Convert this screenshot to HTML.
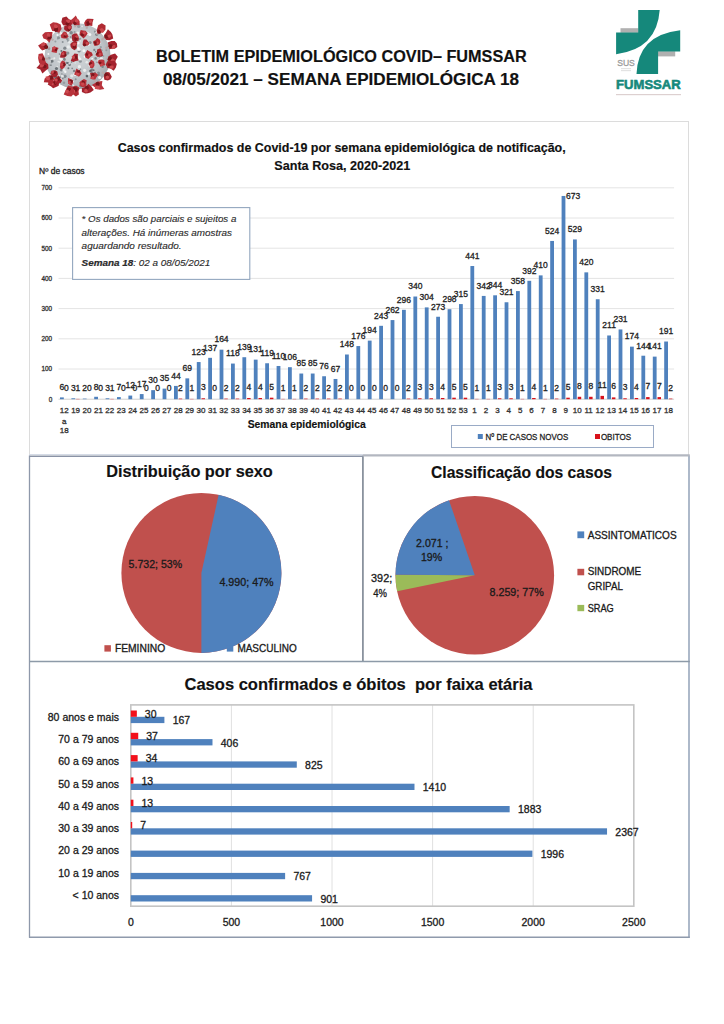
<!DOCTYPE html>
<html><head><meta charset="utf-8"><style>
html,body{margin:0;padding:0;background:#fff;}
svg{display:block;font-family:"Liberation Sans", sans-serif;}
</style></head><body>
<svg width="724" height="1024" viewBox="0 0 724 1024">
<rect width="724" height="1024" fill="#fff"/>
<defs><radialGradient id="vg" cx="0.45" cy="0.42" r="0.6"><stop offset="0" stop-color="#d6dadc"/><stop offset="0.7" stop-color="#bfc4c8"/><stop offset="1" stop-color="#a4a9ae"/></radialGradient><filter id="vb" x="-20%" y="-20%" width="140%" height="140%"><feGaussianBlur stdDeviation="0.55"/></filter></defs>
<g filter="url(#vb)">
<circle cx="77.6" cy="56.3" r="33" fill="url(#vg)"/>
<circle cx="58.5" cy="37.7" r="1.5" fill="#7d8489" opacity="0.8"/>
<circle cx="75.7" cy="26.6" r="0.7" fill="#ffffff" opacity="0.8"/>
<circle cx="80.1" cy="41.0" r="0.8" fill="#eef0f0" opacity="0.8"/>
<circle cx="93.7" cy="70.2" r="0.9" fill="#555c61" opacity="0.8"/>
<circle cx="90.0" cy="65.6" r="1.4" fill="#ffffff" opacity="0.8"/>
<circle cx="72.1" cy="85.5" r="1.5" fill="#eef0f0" opacity="0.8"/>
<circle cx="78.2" cy="48.0" r="1.3" fill="#ffffff" opacity="0.8"/>
<circle cx="78.5" cy="57.2" r="1.6" fill="#eef0f0" opacity="0.8"/>
<circle cx="82.1" cy="26.3" r="0.9" fill="#eef0f0" opacity="0.8"/>
<circle cx="70.2" cy="85.8" r="1.2" fill="#f6f6f6" opacity="0.8"/>
<circle cx="68.3" cy="46.9" r="1.7" fill="#eef0f0" opacity="0.8"/>
<circle cx="106.3" cy="50.2" r="1.0" fill="#8c9398" opacity="0.8"/>
<circle cx="51.8" cy="71.6" r="1.0" fill="#8c9398" opacity="0.8"/>
<circle cx="70.0" cy="79.1" r="0.7" fill="#f6f6f6" opacity="0.8"/>
<circle cx="75.5" cy="48.6" r="1.1" fill="#8c9398" opacity="0.8"/>
<circle cx="60.3" cy="58.4" r="1.2" fill="#f6f6f6" opacity="0.8"/>
<circle cx="84.6" cy="70.3" r="1.6" fill="#f6f6f6" opacity="0.8"/>
<circle cx="65.3" cy="71.7" r="1.2" fill="#ffffff" opacity="0.8"/>
<circle cx="61.9" cy="73.9" r="0.7" fill="#6f767b" opacity="0.8"/>
<circle cx="71.2" cy="32.7" r="1.7" fill="#6f767b" opacity="0.8"/>
<circle cx="78.7" cy="26.4" r="1.6" fill="#8c9398" opacity="0.8"/>
<circle cx="48.4" cy="54.0" r="1.0" fill="#ffffff" opacity="0.8"/>
<circle cx="98.5" cy="73.1" r="1.5" fill="#7d8489" opacity="0.8"/>
<circle cx="71.8" cy="75.9" r="1.7" fill="#eef0f0" opacity="0.8"/>
<circle cx="64.5" cy="76.7" r="1.6" fill="#8c9398" opacity="0.8"/>
<circle cx="73.4" cy="81.9" r="0.8" fill="#f6f6f6" opacity="0.8"/>
<circle cx="72.3" cy="68.2" r="0.8" fill="#eef0f0" opacity="0.8"/>
<circle cx="74.5" cy="39.3" r="1.2" fill="#f6f6f6" opacity="0.8"/>
<circle cx="107.0" cy="65.5" r="1.2" fill="#ffffff" opacity="0.8"/>
<circle cx="103.7" cy="61.6" r="1.0" fill="#8c9398" opacity="0.8"/>
<circle cx="58.2" cy="61.8" r="0.8" fill="#f6f6f6" opacity="0.8"/>
<circle cx="98.9" cy="60.7" r="1.5" fill="#eef0f0" opacity="0.8"/>
<circle cx="100.7" cy="53.6" r="0.8" fill="#7d8489" opacity="0.8"/>
<circle cx="66.7" cy="62.9" r="1.1" fill="#6f767b" opacity="0.8"/>
<circle cx="87.0" cy="42.4" r="1.2" fill="#555c61" opacity="0.8"/>
<circle cx="96.0" cy="31.8" r="1.2" fill="#ffffff" opacity="0.8"/>
<circle cx="71.0" cy="40.1" r="1.0" fill="#ffffff" opacity="0.8"/>
<circle cx="67.8" cy="63.0" r="1.1" fill="#555c61" opacity="0.8"/>
<circle cx="101.4" cy="50.2" r="1.2" fill="#8c9398" opacity="0.8"/>
<circle cx="86.8" cy="76.0" r="1.2" fill="#555c61" opacity="0.8"/>
<circle cx="90.1" cy="42.5" r="1.5" fill="#7d8489" opacity="0.8"/>
<circle cx="63.0" cy="75.0" r="0.7" fill="#8c9398" opacity="0.8"/>
<circle cx="60.6" cy="76.0" r="1.0" fill="#ffffff" opacity="0.8"/>
<circle cx="74.7" cy="86.9" r="1.4" fill="#8c9398" opacity="0.8"/>
<circle cx="63.7" cy="37.2" r="0.7" fill="#555c61" opacity="0.8"/>
<circle cx="80.2" cy="38.8" r="1.0" fill="#8c9398" opacity="0.8"/>
<circle cx="87.7" cy="33.5" r="1.5" fill="#8c9398" opacity="0.8"/>
<circle cx="74.9" cy="74.3" r="1.6" fill="#ffffff" opacity="0.8"/>
<circle cx="60.9" cy="79.3" r="1.6" fill="#f6f6f6" opacity="0.8"/>
<circle cx="59.8" cy="62.1" r="1.0" fill="#eef0f0" opacity="0.8"/>
<circle cx="65.2" cy="54.0" r="1.5" fill="#7d8489" opacity="0.8"/>
<circle cx="52.1" cy="60.0" r="1.4" fill="#f6f6f6" opacity="0.8"/>
<circle cx="56.5" cy="68.5" r="1.6" fill="#555c61" opacity="0.8"/>
<circle cx="67.4" cy="39.0" r="1.3" fill="#7d8489" opacity="0.8"/>
<circle cx="88.4" cy="44.3" r="1.7" fill="#eef0f0" opacity="0.8"/>
<circle cx="88.6" cy="73.7" r="1.4" fill="#eef0f0" opacity="0.8"/>
<circle cx="78.3" cy="43.1" r="1.4" fill="#ffffff" opacity="0.8"/>
<circle cx="90.1" cy="54.7" r="1.6" fill="#6f767b" opacity="0.8"/>
<circle cx="72.2" cy="68.3" r="0.9" fill="#6f767b" opacity="0.8"/>
<circle cx="61.8" cy="65.6" r="1.4" fill="#6f767b" opacity="0.8"/>
<circle cx="64.8" cy="48.2" r="1.6" fill="#6f767b" opacity="0.8"/>
<circle cx="59.7" cy="80.7" r="1.6" fill="#7d8489" opacity="0.8"/>
<circle cx="98.8" cy="75.0" r="1.1" fill="#6f767b" opacity="0.8"/>
<circle cx="61.4" cy="51.0" r="1.0" fill="#555c61" opacity="0.8"/>
<circle cx="65.0" cy="76.3" r="1.7" fill="#7d8489" opacity="0.8"/>
<circle cx="91.3" cy="70.7" r="1.3" fill="#555c61" opacity="0.8"/>
<circle cx="69.6" cy="64.8" r="1.3" fill="#555c61" opacity="0.8"/>
<circle cx="63.9" cy="58.3" r="0.8" fill="#6f767b" opacity="0.8"/>
<circle cx="60.2" cy="79.9" r="0.7" fill="#6f767b" opacity="0.8"/>
<circle cx="64.0" cy="82.7" r="1.2" fill="#8c9398" opacity="0.8"/>
<circle cx="57.5" cy="35.0" r="1.1" fill="#ffffff" opacity="0.8"/>
<circle cx="99.1" cy="53.1" r="1.2" fill="#f6f6f6" opacity="0.8"/>
<circle cx="55.5" cy="77.1" r="1.6" fill="#555c61" opacity="0.8"/>
<circle cx="55.4" cy="41.4" r="1.0" fill="#8c9398" opacity="0.8"/>
<circle cx="62.5" cy="65.2" r="1.7" fill="#ffffff" opacity="0.8"/>
<circle cx="88.2" cy="51.3" r="0.7" fill="#f6f6f6" opacity="0.8"/>
<circle cx="62.7" cy="42.0" r="1.0" fill="#7d8489" opacity="0.8"/>
<circle cx="90.3" cy="71.0" r="1.2" fill="#555c61" opacity="0.8"/>
<circle cx="73.1" cy="85.9" r="1.5" fill="#eef0f0" opacity="0.8"/>
<circle cx="49.2" cy="58.1" r="1.4" fill="#8c9398" opacity="0.8"/>
<circle cx="71.1" cy="79.6" r="1.2" fill="#f6f6f6" opacity="0.8"/>
<circle cx="96.6" cy="34.3" r="1.6" fill="#6f767b" opacity="0.8"/>
<circle cx="78.7" cy="39.3" r="1.2" fill="#8c9398" opacity="0.8"/>
<circle cx="57.6" cy="38.9" r="0.7" fill="#8c9398" opacity="0.8"/>
<circle cx="60.4" cy="76.8" r="1.3" fill="#6f767b" opacity="0.8"/>
<circle cx="100.7" cy="56.7" r="1.4" fill="#6f767b" opacity="0.8"/>
<circle cx="95.1" cy="41.5" r="0.7" fill="#7d8489" opacity="0.8"/>
<circle cx="86.1" cy="33.9" r="1.4" fill="#f6f6f6" opacity="0.8"/>
<circle cx="60.5" cy="33.2" r="1.5" fill="#ffffff" opacity="0.8"/>
<circle cx="55.3" cy="74.3" r="0.9" fill="#8c9398" opacity="0.8"/>
<circle cx="51.3" cy="62.2" r="1.0" fill="#6f767b" opacity="0.8"/>
<circle cx="70.6" cy="37.1" r="1.0" fill="#7d8489" opacity="0.8"/>
<circle cx="60.6" cy="59.3" r="0.9" fill="#f6f6f6" opacity="0.8"/>
<circle cx="56.8" cy="49.7" r="1.0" fill="#eef0f0" opacity="0.8"/>
<circle cx="57.2" cy="66.6" r="0.7" fill="#f6f6f6" opacity="0.8"/>
<circle cx="81.1" cy="84.1" r="1.5" fill="#f6f6f6" opacity="0.8"/>
<circle cx="94.3" cy="49.9" r="1.1" fill="#6f767b" opacity="0.8"/>
<circle cx="103.6" cy="56.0" r="0.7" fill="#7d8489" opacity="0.8"/>
<circle cx="95.1" cy="73.2" r="1.5" fill="#6f767b" opacity="0.8"/>
<circle cx="74.9" cy="45.2" r="1.0" fill="#ffffff" opacity="0.8"/>
<circle cx="91.9" cy="75.9" r="1.1" fill="#eef0f0" opacity="0.8"/>
<circle cx="90.7" cy="62.2" r="1.3" fill="#f6f6f6" opacity="0.8"/>
<circle cx="71.6" cy="62.0" r="0.8" fill="#555c61" opacity="0.8"/>
<circle cx="92.0" cy="69.5" r="1.3" fill="#6f767b" opacity="0.8"/>
<circle cx="61.8" cy="63.5" r="1.3" fill="#ffffff" opacity="0.8"/>
<circle cx="62.4" cy="76.3" r="1.6" fill="#eef0f0" opacity="0.8"/>
<circle cx="73.7" cy="44.9" r="1.3" fill="#555c61" opacity="0.8"/>
<circle cx="70.1" cy="85.4" r="1.2" fill="#eef0f0" opacity="0.8"/>
<circle cx="75.7" cy="79.2" r="1.0" fill="#7d8489" opacity="0.8"/>
<circle cx="71.2" cy="86.2" r="1.5" fill="#7d8489" opacity="0.8"/>
<circle cx="59.2" cy="75.6" r="0.9" fill="#f6f6f6" opacity="0.8"/>
<circle cx="95.6" cy="58.4" r="1.3" fill="#6f767b" opacity="0.8"/>
<circle cx="86.8" cy="62.2" r="1.3" fill="#eef0f0" opacity="0.8"/>
<circle cx="61.4" cy="69.8" r="1.7" fill="#6f767b" opacity="0.8"/>
<circle cx="79.1" cy="51.2" r="1.4" fill="#6f767b" opacity="0.8"/>
<circle cx="95.0" cy="31.7" r="1.1" fill="#7d8489" opacity="0.8"/>
<circle cx="79.4" cy="66.7" r="1.7" fill="#f6f6f6" opacity="0.8"/>
<circle cx="63.4" cy="57.1" r="1.4" fill="#ffffff" opacity="0.8"/>
<circle cx="68.4" cy="68.2" r="1.0" fill="#555c61" opacity="0.8"/>
<circle cx="69.9" cy="29.7" r="1.1" fill="#f6f6f6" opacity="0.8"/>
<circle cx="89.8" cy="34.5" r="1.5" fill="#ffffff" opacity="0.8"/>
<circle cx="95.7" cy="51.8" r="0.7" fill="#555c61" opacity="0.8"/>
<circle cx="80.5" cy="69.2" r="0.8" fill="#6f767b" opacity="0.8"/>
<circle cx="91.2" cy="59.2" r="0.7" fill="#ffffff" opacity="0.8"/>
<circle cx="67.9" cy="40.8" r="1.1" fill="#8c9398" opacity="0.8"/>
<circle cx="96.4" cy="40.7" r="1.1" fill="#ffffff" opacity="0.8"/>
<circle cx="64.4" cy="59.5" r="1.4" fill="#6f767b" opacity="0.8"/>
<circle cx="64.0" cy="69.9" r="1.6" fill="#eef0f0" opacity="0.8"/>
<circle cx="67.9" cy="53.0" r="1.5" fill="#7d8489" opacity="0.8"/>
<circle cx="74.1" cy="70.9" r="1.2" fill="#6f767b" opacity="0.8"/>
<circle cx="62.6" cy="78.6" r="1.0" fill="#6f767b" opacity="0.8"/>
<circle cx="67.9" cy="32.8" r="1.2" fill="#eef0f0" opacity="0.8"/>
<circle cx="96.3" cy="73.4" r="1.0" fill="#f6f6f6" opacity="0.8"/>
<circle cx="79.6" cy="87.1" r="0.7" fill="#f6f6f6" opacity="0.8"/>
<circle cx="92.3" cy="58.6" r="0.8" fill="#ffffff" opacity="0.8"/>
<circle cx="99.7" cy="42.6" r="1.4" fill="#eef0f0" opacity="0.8"/>
<circle cx="61.4" cy="59.6" r="1.4" fill="#f6f6f6" opacity="0.8"/>
<circle cx="50.8" cy="61.7" r="0.9" fill="#eef0f0" opacity="0.8"/>
<circle cx="100.8" cy="47.2" r="1.1" fill="#8c9398" opacity="0.8"/>
<circle cx="85.2" cy="56.6" r="1.5" fill="#ffffff" opacity="0.8"/>
<circle cx="80.3" cy="61.3" r="1.5" fill="#7d8489" opacity="0.8"/>
<circle cx="59.4" cy="54.1" r="0.8" fill="#6f767b" opacity="0.8"/>
<circle cx="79.9" cy="84.0" r="0.8" fill="#ffffff" opacity="0.8"/>
<circle cx="92.0" cy="61.4" r="0.8" fill="#ffffff" opacity="0.8"/>
<circle cx="78.9" cy="49.6" r="1.5" fill="#ffffff" opacity="0.8"/>
<circle cx="75.2" cy="62.9" r="0.7" fill="#eef0f0" opacity="0.8"/>
<circle cx="87.1" cy="76.3" r="1.1" fill="#555c61" opacity="0.8"/>
<circle cx="80.6" cy="86.0" r="1.5" fill="#6f767b" opacity="0.8"/>
<circle cx="48.9" cy="48.5" r="1.3" fill="#7d8489" opacity="0.8"/>
<circle cx="74.6" cy="32.0" r="1.1" fill="#8c9398" opacity="0.8"/>
<circle cx="54.3" cy="58.3" r="1.1" fill="#f6f6f6" opacity="0.8"/>
<circle cx="79.9" cy="58.9" r="1.5" fill="#f6f6f6" opacity="0.8"/>
<circle cx="50.9" cy="65.2" r="0.9" fill="#6f767b" opacity="0.8"/>
<circle cx="91.5" cy="72.8" r="1.5" fill="#8c9398" opacity="0.8"/>
<circle cx="84.9" cy="40.6" r="0.8" fill="#6f767b" opacity="0.8"/>
<circle cx="52.1" cy="60.9" r="1.5" fill="#555c61" opacity="0.8"/>
<circle cx="69.4" cy="42.2" r="1.2" fill="#eef0f0" opacity="0.8"/>
<circle cx="90.8" cy="60.4" r="1.0" fill="#8c9398" opacity="0.8"/>
<circle cx="83.9" cy="50.8" r="1.5" fill="#ffffff" opacity="0.8"/>
<circle cx="77.9" cy="33.2" r="1.6" fill="#f6f6f6" opacity="0.8"/>
<circle cx="88.1" cy="52.2" r="0.7" fill="#eef0f0" opacity="0.8"/>
<circle cx="87.8" cy="33.4" r="1.7" fill="#f6f6f6" opacity="0.8"/>
<circle cx="97.0" cy="62.2" r="0.8" fill="#7d8489" opacity="0.8"/>
<circle cx="69.3" cy="63.8" r="0.8" fill="#eef0f0" opacity="0.8"/>
<circle cx="91.8" cy="72.9" r="1.0" fill="#6f767b" opacity="0.8"/>
<circle cx="102.6" cy="66.8" r="1.3" fill="#6f767b" opacity="0.8"/>
<circle cx="99.6" cy="77.4" r="1.5" fill="#ffffff" opacity="0.8"/>
<circle cx="96.8" cy="33.0" r="1.3" fill="#eef0f0" opacity="0.8"/>
<circle cx="66.8" cy="54.4" r="0.9" fill="#8c9398" opacity="0.8"/>
<circle cx="101.2" cy="58.2" r="1.5" fill="#f6f6f6" opacity="0.8"/>
<line x1="106.49" y1="58.82" x2="112.27" y2="59.32" stroke="#b9a9a9" stroke-width="2.0"/>
<polygon points="111.0,54.7 115.1,53.4 117.8,56.8 115.8,60.3 114.8,62.9 111.7,65.8 108.8,62.8 107.5,59.7 108.3,56.5" fill="#a4242d"/>
<polygon points="110.5,56.2 112.2,57.9 113.1,60.1 111.0,61.4 109.4,60.5 107.5,59.5 108.7,57.6" fill="#7a161c"/>
<polygon points="115.6,62.0 113.1,62.5 111.0,62.6 110.7,60.3 112.2,58.2 114.3,59.6" fill="#cc4a50"/>
<line x1="105.60" y1="63.84" x2="111.23" y2="65.35" stroke="#b9a9a9" stroke-width="2.0"/>
<polygon points="105.7,64.8 107.3,61.3 110.9,61.1 114.5,60.7 116.8,63.9 115.9,67.6 113.7,70.8 110.4,68.5 107.4,68.0" fill="#a4242d"/>
<polygon points="108.5,66.1 107.7,64.9 108.1,63.4 109.6,63.4 111.1,63.9 111.7,65.8 109.9,66.6" fill="#7a161c"/>
<polygon points="113.6,65.8 113.5,68.3 111.4,69.1 109.6,68.0 109.6,65.9 111.4,65.5" fill="#cc4a50"/>
<line x1="101.95" y1="72.05" x2="107.88" y2="75.89" stroke="#b9a9a9" stroke-width="2.0"/>
<polygon points="104.8,74.0 106.5,71.9 109.3,72.2 110.6,74.4 111.8,76.7 110.5,79.2 107.8,80.4 104.4,79.8 103.7,76.5" fill="#a4242d"/>
<polygon points="108.8,74.6 108.2,76.8 106.0,77.2 104.3,76.1 104.3,74.2 105.5,72.5 107.3,73.3" fill="#7a161c"/>
<polygon points="105.6,76.2 107.7,75.4 109.1,76.7 108.8,78.3 107.5,78.9 105.9,78.3" fill="#cc4a50"/>
<line x1="94.30" y1="80.01" x2="98.50" y2="85.96" stroke="#b9a9a9" stroke-width="2.0"/>
<polygon points="101.8,85.3 104.3,89.1 100.0,89.8 97.4,89.2 95.4,87.8 91.8,85.0 95.6,82.7 98.4,81.4 102.4,81.1" fill="#b8323a"/>
<polygon points="99.5,83.2 99.4,85.3 97.7,86.5 96.2,85.5 95.6,84.2 96.0,82.6 98.0,81.6" fill="#7a161c"/>
<polygon points="94.8,88.9 95.3,86.1 97.6,85.4 99.9,86.2 99.5,88.7 97.4,89.3" fill="#cc4a50"/>
<line x1="85.68" y1="84.15" x2="87.34" y2="89.88" stroke="#b9a9a9" stroke-width="2.0"/>
<polygon points="91.5,86.4 93.8,89.9 90.4,92.4 87.9,93.3 85.3,93.4 81.9,91.9 81.9,87.9 85.7,87.0 88.4,83.7" fill="#a4242d"/>
<polygon points="88.6,88.9 87.1,89.6 85.2,89.8 84.5,87.9 85.4,86.1 87.4,85.7 88.8,87.1" fill="#7a161c"/>
<polygon points="84.5,91.9 84.1,90.0 85.9,88.6 87.5,89.9 87.8,91.8 86.1,92.4" fill="#cc4a50"/>
<line x1="75.57" y1="85.23" x2="75.15" y2="91.21" stroke="#b9a9a9" stroke-width="2.0"/>
<polygon points="78.9,94.6 75.9,96.4 73.2,94.4 71.5,92.4 70.3,89.3 72.6,86.5 76.3,85.8 79.6,87.7 78.5,91.3" fill="#b02a33"/>
<polygon points="72.6,89.5 73.3,87.1 75.5,87.3 77.6,87.8 77.6,90.0 76.2,91.9 74.3,90.7" fill="#7a161c"/>
<polygon points="72.6,89.2 74.9,90.1 75.1,92.0 74.1,93.3 72.4,93.0 72.0,91.4" fill="#cc4a50"/>
<line x1="70.38" y1="84.39" x2="68.68" y2="91.02" stroke="#b9a9a9" stroke-width="2.0"/>
<polygon points="68.2,85.4 71.9,86.4 73.8,89.6 74.1,93.5 71.3,96.5 67.4,95.9 63.7,94.5 65.4,90.7 66.3,88.7" fill="#b8323a"/>
<polygon points="70.7,89.8 69.6,91.0 68.0,90.8 66.8,89.3 67.6,87.4 69.4,87.8 70.8,88.3" fill="#7a161c"/>
<polygon points="65.3,90.7 66.7,89.8 68.6,89.7 68.9,91.7 67.7,93.5 65.6,92.7" fill="#cc4a50"/>
<line x1="58.66" y1="78.26" x2="53.54" y2="84.20" stroke="#b9a9a9" stroke-width="2.0"/>
<polygon points="52.8,81.3 56.0,79.2 59.2,81.7 58.7,85.7 55.5,87.2 53.1,88.2 51.1,86.6 47.7,84.6 49.5,81.2" fill="#a4242d"/>
<polygon points="54.9,81.3 56.0,82.0 56.6,83.4 55.7,85.3 54.0,84.0 52.8,83.0 53.6,81.6" fill="#7a161c"/>
<polygon points="53.7,83.5 53.4,85.6 51.4,85.1 49.3,83.9 50.8,81.9 52.8,81.9" fill="#cc4a50"/>
<line x1="55.16" y1="74.67" x2="49.33" y2="79.44" stroke="#b9a9a9" stroke-width="2.0"/>
<polygon points="53.3,82.0 51.2,85.5 48.0,82.6 43.8,82.3 44.7,78.4 47.3,76.7 49.6,75.1 52.8,75.7 54.1,78.9" fill="#b02a33"/>
<polygon points="49.4,77.9 50.0,76.5 52.0,75.1 53.1,77.3 53.0,79.3 51.2,79.7 49.6,79.5" fill="#7a161c"/>
<polygon points="50.3,77.8 49.4,80.2 47.3,80.1 45.6,79.1 45.7,76.6 48.2,76.3" fill="#cc4a50"/>
<line x1="49.87" y1="64.80" x2="42.50" y2="67.05" stroke="#b9a9a9" stroke-width="2.0"/>
<polygon points="39.1,65.0 41.0,62.5 44.6,61.6 47.9,64.1 48.6,68.3 45.5,70.8 42.4,73.5 40.3,69.6 36.4,68.0" fill="#a4242d"/>
<polygon points="45.5,68.2 43.8,68.3 42.8,67.0 42.2,64.9 44.4,64.9 46.0,65.0 46.6,66.8" fill="#7a161c"/>
<polygon points="42.0,67.2 40.1,67.3 39.9,65.4 40.5,63.3 43.1,63.5 44.1,66.1" fill="#cc4a50"/>
<line x1="48.68" y1="58.51" x2="41.64" y2="59.04" stroke="#b9a9a9" stroke-width="2.0"/>
<polygon points="44.3,56.7 44.6,59.0 46.0,62.5 42.8,64.9 39.3,63.3 38.5,60.3 38.1,57.9 38.6,54.0 42.5,53.2" fill="#b8323a"/>
<polygon points="45.1,59.2 44.4,60.6 42.8,60.5 41.2,59.5 42.0,57.8 43.4,56.5 44.7,57.9" fill="#7a161c"/>
<polygon points="38.2,57.3 40.0,55.5 41.8,56.4 42.4,57.8 41.8,59.7 39.8,59.1" fill="#cc4a50"/>
<line x1="49.82" y1="47.99" x2="43.65" y2="46.15" stroke="#b9a9a9" stroke-width="2.0"/>
<polygon points="47.3,45.3 46.6,47.7 44.9,49.2 42.3,50.5 40.2,48.4 38.1,45.4 41.3,43.6 43.5,42.9 46.1,43.0" fill="#b02a33"/>
<polygon points="45.9,49.3 44.3,48.0 43.7,46.5 44.2,44.4 46.2,45.0 48.0,45.9 48.0,48.3" fill="#7a161c"/>
<polygon points="43.9,42.1 45.5,43.6 44.8,45.4 43.2,46.0 40.8,45.4 41.7,42.9" fill="#cc4a50"/>
<line x1="53.47" y1="40.22" x2="47.85" y2="36.47" stroke="#b9a9a9" stroke-width="2.0"/>
<polygon points="52.1,36.1 51.0,38.7 49.5,42.8 46.3,39.6 43.5,38.5 42.2,34.9 45.0,32.3 48.3,31.9 52.5,31.9" fill="#b8323a"/>
<polygon points="48.9,39.8 47.0,38.6 48.1,36.8 49.3,35.6 51.1,36.0 51.9,37.8 50.6,39.1" fill="#7a161c"/>
<polygon points="46.7,35.2 47.1,33.6 48.7,32.8 49.9,34.3 50.4,36.8 47.8,36.6" fill="#cc4a50"/>
<line x1="59.62" y1="33.55" x2="55.06" y2="27.78" stroke="#b9a9a9" stroke-width="2.0"/>
<polygon points="55.0,31.2 52.3,31.0 51.2,28.4 49.7,24.6 53.1,22.2 57.0,22.7 60.7,24.6 61.6,29.0 59.1,32.7" fill="#b8323a"/>
<polygon points="54.4,28.1 56.1,26.5 57.9,28.0 58.1,29.7 57.5,31.4 55.4,31.9 54.0,30.2" fill="#7a161c"/>
<polygon points="54.8,23.9 56.8,24.9 58.1,26.3 57.0,28.1 54.7,28.2 53.8,26.1" fill="#cc4a50"/>
<line x1="69.02" y1="28.60" x2="67.07" y2="22.28" stroke="#b9a9a9" stroke-width="2.0"/>
<polygon points="72.4,24.5 68.7,25.5 66.3,25.7 63.1,25.3 61.4,22.0 62.3,17.8 66.4,16.4 69.0,19.3 72.4,20.6" fill="#a4242d"/>
<polygon points="68.6,22.9 70.4,24.1 69.0,25.7 67.4,26.2 66.4,25.0 65.2,23.3 67.0,22.1" fill="#7a161c"/>
<polygon points="70.3,19.9 70.1,21.9 68.7,23.0 66.9,22.3 65.7,19.9 68.3,19.4" fill="#cc4a50"/>
<line x1="75.45" y1="27.38" x2="75.00" y2="21.34" stroke="#b9a9a9" stroke-width="2.0"/>
<polygon points="70.7,23.1 71.0,20.1 73.1,18.3 75.8,15.5 77.6,19.0 79.6,21.1 79.7,25.0 75.9,25.3 73.6,24.0" fill="#b8323a"/>
<polygon points="73.2,24.1 73.3,22.3 74.6,20.6 76.2,22.0 76.8,23.3 76.1,24.5 74.6,25.3" fill="#7a161c"/>
<polygon points="76.4,22.4 74.5,21.7 75.1,19.8 76.5,18.7 78.7,19.4 78.3,21.7" fill="#cc4a50"/>
<line x1="86.50" y1="28.70" x2="88.68" y2="21.91" stroke="#b9a9a9" stroke-width="2.0"/>
<polygon points="87.4,18.8 89.7,18.8 93.6,18.9 92.5,22.5 92.3,25.9 88.8,25.5 85.3,26.2 84.1,22.9 85.6,20.3" fill="#b02a33"/>
<polygon points="86.9,25.8 86.6,23.9 86.2,21.9 88.3,21.1 89.6,22.7 89.8,24.2 88.8,25.4" fill="#7a161c"/>
<polygon points="92.2,21.8 91.0,23.0 89.6,23.1 88.9,21.8 89.5,20.6 91.5,19.7" fill="#cc4a50"/>
<line x1="96.52" y1="34.32" x2="100.58" y2="29.61" stroke="#b9a9a9" stroke-width="2.0"/>
<polygon points="101.1,32.8 97.9,34.0 96.6,30.9 97.3,28.3 98.2,25.3 101.8,23.3 105.6,25.6 105.4,29.7 103.2,31.9" fill="#b02a33"/>
<polygon points="99.4,29.5 101.2,29.9 100.7,31.7 100.2,33.9 98.0,33.1 97.2,31.4 98.0,29.8" fill="#7a161c"/>
<polygon points="99.4,29.3 101.8,28.1 103.5,29.0 104.3,30.9 102.8,33.0 100.7,31.5" fill="#cc4a50"/>
<line x1="101.47" y1="39.82" x2="107.85" y2="35.42" stroke="#b9a9a9" stroke-width="2.0"/>
<polygon points="104.3,34.8 105.8,32.9 107.9,29.2 110.9,31.9 112.4,34.6 113.2,38.5 109.5,40.2 106.2,39.9 104.3,37.4" fill="#a4242d"/>
<polygon points="106.2,34.8 107.8,35.2 108.7,37.0 107.3,38.6 105.6,38.0 104.6,37.0 104.3,35.1" fill="#7a161c"/>
<polygon points="109.0,34.8 111.5,34.6 110.7,37.0 109.5,38.0 108.0,37.3 107.3,35.6" fill="#cc4a50"/>
<line x1="105.37" y1="47.93" x2="112.62" y2="45.75" stroke="#b9a9a9" stroke-width="2.0"/>
<polygon points="108.7,46.2 107.7,42.5 111.2,40.9 114.7,40.9 116.9,43.6 117.3,46.9 114.8,48.7 112.4,48.8 109.3,49.3" fill="#a4242d"/>
<polygon points="108.2,46.6 108.9,44.4 111.0,44.2 112.7,45.1 112.9,47.0 111.3,47.7 109.9,47.8" fill="#7a161c"/>
<polygon points="111.9,46.8 112.9,45.3 115.2,45.1 115.4,47.3 114.2,48.6 111.9,49.2" fill="#cc4a50"/>
<polygon points="67.4,34.3 68.6,36.7 66.5,38.6 64.1,38.5 61.4,38.1 60.8,35.3 62.3,33.4 63.9,31.4 66.3,32.3" fill="#b8323a"/>
<polygon points="64.9,34.9 66.5,35.0 66.5,36.5 66.3,37.7 65.1,37.5 63.7,37.3 63.7,35.7" fill="#7a161c"/>
<polygon points="65.9,33.4 66.9,34.4 66.1,35.7 64.7,35.3 64.1,34.3 64.3,32.5" fill="#cc4a50"/>
<polygon points="80.7,30.1 83.1,30.4 85.5,30.8 87.7,33.3 86.0,36.1 83.5,38.5 81.0,36.1 79.5,34.4 79.9,32.4" fill="#b02a33"/>
<polygon points="83.8,34.2 84.0,35.8 82.6,36.4 81.4,35.9 80.3,34.9 81.1,33.4 82.8,32.8" fill="#7a161c"/>
<polygon points="84.5,31.0 86.2,32.4 85.4,34.3 83.8,34.2 82.4,33.6 82.7,31.9" fill="#cc4a50"/>
<polygon points="99.3,44.4 97.3,45.6 94.6,46.1 93.4,43.6 93.2,41.2 95.4,40.3 97.2,38.1 99.7,39.5 100.5,42.2" fill="#b02a33"/>
<polygon points="96.3,41.7 97.2,42.9 96.9,44.5 95.3,44.9 94.5,43.8 93.5,42.6 94.7,41.2" fill="#7a161c"/>
<polygon points="98.0,44.0 96.7,44.0 96.5,42.7 97.2,41.6 98.4,42.1 98.9,43.2" fill="#cc4a50"/>
<polygon points="57.1,50.2 56.7,53.1 54.0,52.4 51.5,51.9 52.1,49.3 52.2,47.3 54.2,46.7 55.9,47.1 58.7,47.9" fill="#b8323a"/>
<polygon points="57.2,51.3 55.6,51.0 54.5,50.3 54.9,49.2 55.6,48.0 57.2,48.3 57.2,49.7" fill="#7a161c"/>
<polygon points="55.5,48.8 54.4,49.5 52.8,48.9 52.9,47.1 54.6,46.1 55.9,47.4" fill="#cc4a50"/>
<polygon points="70.6,46.4 70.3,44.1 71.9,42.4 74.4,40.8 77.3,42.2 76.8,45.3 76.8,47.9 74.5,50.2 71.8,48.5" fill="#a4242d"/>
<polygon points="75.8,48.0 74.3,48.5 73.2,47.8 72.6,46.6 73.6,45.8 74.7,45.6 75.8,46.3" fill="#7a161c"/>
<polygon points="75.6,45.1 74.4,46.2 72.4,45.3 72.9,43.0 74.9,42.8 76.9,43.5" fill="#cc4a50"/>
<polygon points="85.5,57.7 84.6,54.8 85.9,52.6 87.3,50.1 89.7,51.6 91.8,52.6 92.9,55.2 90.5,56.7 88.4,58.9" fill="#b02a33"/>
<polygon points="86.0,55.3 85.7,54.0 86.5,52.6 87.8,53.7 88.7,54.4 88.0,55.4 87.0,56.1" fill="#7a161c"/>
<polygon points="89.5,53.8 90.3,55.0 90.6,56.4 89.0,56.7 88.2,55.7 88.2,54.5" fill="#cc4a50"/>
<polygon points="104.2,60.0 104.6,62.7 105.1,65.2 102.6,65.7 100.5,66.7 99.5,64.6 97.8,62.7 98.6,59.9 101.5,59.4" fill="#b8323a"/>
<polygon points="101.8,63.3 100.8,64.3 99.5,64.2 99.0,63.1 99.2,62.0 100.3,61.4 101.1,62.2" fill="#7a161c"/>
<polygon points="101.1,63.4 102.4,63.4 102.8,64.6 102.3,65.8 100.6,66.3 100.4,64.5" fill="#cc4a50"/>
<polygon points="60.3,63.0 62.2,60.6 65.1,61.7 65.6,64.5 64.9,66.4 63.9,68.1 61.5,69.4 59.8,67.3 60.3,65.1" fill="#b8323a"/>
<polygon points="65.6,64.2 65.4,65.8 63.8,66.2 62.3,65.8 62.5,64.3 63.2,63.2 64.7,62.8" fill="#7a161c"/>
<polygon points="60.1,64.3 61.2,63.5 62.6,63.3 63.6,64.9 62.2,65.9 60.9,65.5" fill="#cc4a50"/>
<polygon points="80.5,75.2 78.9,76.7 77.1,75.5 74.0,74.6 75.2,71.7 76.4,68.6 79.3,70.5 80.7,71.8 81.6,73.5" fill="#b8323a"/>
<polygon points="77.9,73.4 76.7,72.3 76.8,70.6 78.4,70.5 80.2,70.1 80.0,71.9 79.3,73.0" fill="#7a161c"/>
<polygon points="76.0,74.5 75.9,72.9 77.5,72.4 79.2,73.0 78.8,74.9 77.1,76.3" fill="#cc4a50"/>
<polygon points="95.9,72.8 98.2,74.9 96.3,77.4 95.3,79.6 92.9,79.6 90.3,78.8 90.8,76.2 90.0,73.0 93.2,72.8" fill="#b8323a"/>
<polygon points="93.1,72.9 94.6,74.1 94.1,75.7 93.1,77.2 91.2,76.9 91.3,75.1 91.3,73.5" fill="#7a161c"/>
<polygon points="92.7,75.8 94.1,76.6 94.2,78.0 93.2,79.1 91.2,78.9 91.4,76.9" fill="#cc4a50"/>
<polygon points="56.2,77.1 53.2,76.9 51.7,75.1 50.3,73.5 51.3,71.6 52.9,70.6 55.1,70.3 57.3,71.6 58.0,74.6" fill="#a4242d"/>
<polygon points="54.3,71.5 55.2,71.4 56.4,72.0 55.8,73.1 54.9,73.9 53.7,73.4 52.8,72.1" fill="#7a161c"/>
<polygon points="53.8,72.7 53.0,73.6 51.6,73.9 51.3,72.5 51.6,70.7 53.8,70.8" fill="#cc4a50"/>
<polygon points="71.2,85.8 69.4,84.4 68.1,83.2 67.9,81.3 68.1,78.1 71.1,79.2 72.9,80.4 73.1,82.3 72.6,84.0" fill="#b8323a"/>
<polygon points="72.9,80.8 72.4,82.5 70.6,82.8 69.2,81.8 69.7,80.3 70.7,79.6 71.8,79.7" fill="#7a161c"/>
<polygon points="70.5,82.9 69.5,84.3 68.0,83.4 68.3,82.0 69.2,81.0 71.0,81.2" fill="#cc4a50"/>
<polygon points="74.5,53.5 77.9,54.1 77.8,57.7 78.6,60.5 75.7,61.0 73.3,62.1 70.7,60.7 72.0,57.9 72.6,56.0" fill="#a4242d"/>
<polygon points="75.9,55.0 77.2,56.3 77.5,57.6 76.9,59.1 75.5,58.5 74.0,58.0 75.0,56.7" fill="#7a161c"/>
<polygon points="75.2,56.9 74.7,58.5 73.2,59.0 72.1,58.0 71.7,56.0 73.8,55.6" fill="#cc4a50"/>
<polygon points="89.6,43.5 87.8,45.4 85.9,45.7 83.8,46.0 82.7,44.2 82.9,42.1 83.7,39.6 86.5,39.4 88.1,41.4" fill="#a4242d"/>
<polygon points="84.6,43.3 86.3,43.0 86.0,44.7 85.8,46.1 84.2,46.4 82.9,45.3 83.4,43.7" fill="#7a161c"/>
<polygon points="88.2,42.2 88.8,44.0 87.2,44.7 86.0,44.5 85.3,43.2 86.4,41.9" fill="#cc4a50"/>
<polygon points="61.3,52.5 63.6,50.7 66.6,51.7 65.8,54.9 65.6,56.4 64.5,57.8 62.7,57.8 60.0,57.4 60.5,54.7" fill="#a4242d"/>
<polygon points="66.0,53.7 66.7,55.2 66.0,56.4 64.9,56.6 63.7,56.3 63.4,54.9 64.4,53.7" fill="#7a161c"/>
<polygon points="61.7,52.9 63.6,52.1 64.4,53.7 64.5,55.2 63.0,55.3 61.5,54.8" fill="#cc4a50"/>
<polygon points="94.4,65.8 93.1,68.1 90.3,68.0 89.6,65.5 88.7,63.9 89.6,62.0 91.5,59.7 93.8,61.6 94.5,63.7" fill="#b8323a"/>
<polygon points="88.7,63.8 89.4,62.7 90.5,61.8 91.9,62.5 91.8,64.1 90.9,65.1 89.3,65.2" fill="#7a161c"/>
<polygon points="93.1,65.1 92.2,66.3 91.0,67.1 89.7,66.1 90.4,64.6 91.9,63.8" fill="#cc4a50"/>
<polygon points="77.1,33.4 78.0,35.9 78.9,37.9 78.5,40.8 75.5,41.9 72.5,40.9 71.8,37.9 71.8,35.0 74.3,33.4" fill="#a4242d"/>
<polygon points="75.3,41.0 74.4,39.5 74.3,38.1 75.3,36.8 76.5,37.8 77.8,38.8 76.8,40.1" fill="#7a161c"/>
<polygon points="74.9,36.8 76.0,35.6 77.4,35.5 78.7,36.6 77.5,37.8 76.2,37.8" fill="#cc4a50"/>
<polygon points="81.5,80.4 83.9,79.1 86.7,80.2 86.2,83.1 86.5,85.3 84.6,86.9 81.9,86.9 79.4,85.3 79.5,82.2" fill="#b8323a"/>
<polygon points="83.8,80.9 84.8,81.6 84.8,83.2 83.2,84.0 81.8,83.0 81.9,81.5 82.5,80.2" fill="#7a161c"/>
<polygon points="80.9,83.6 82.0,82.4 83.9,82.5 84.3,84.3 83.2,86.0 81.5,85.2" fill="#cc4a50"/>
<polygon points="60.2,78.2 62.1,80.4 60.6,83.0 58.0,82.7 54.9,84.6 54.8,81.2 54.0,78.9 56.1,77.6 58.6,75.4" fill="#a4242d"/>
<polygon points="58.8,81.0 57.5,80.3 57.4,79.0 57.7,77.7 59.3,77.0 59.9,78.6 60.0,79.9" fill="#7a161c"/>
<polygon points="56.7,81.5 55.2,80.9 54.4,79.2 56.0,78.5 57.4,78.9 57.7,80.3" fill="#cc4a50"/>
<polygon points="102.6,53.2 103.0,55.9 100.3,56.6 97.7,57.0 95.5,55.0 96.9,52.5 97.1,49.4 100.3,48.2 101.8,51.3" fill="#b02a33"/>
<polygon points="97.5,54.8 95.7,54.4 96.7,52.8 97.7,51.9 98.9,52.5 99.7,53.7 99.0,55.2" fill="#7a161c"/>
<polygon points="99.3,55.5 98.1,53.9 99.9,52.7 101.6,53.4 101.5,55.0 100.6,55.9" fill="#cc4a50"/>
<polygon points="64.0,29.3 64.4,26.1 67.6,25.8 70.1,23.6 71.8,26.3 71.7,28.7 70.3,30.2 68.7,31.7 66.3,31.2" fill="#a4242d"/>
<polygon points="67.7,30.1 67.3,28.5 68.9,28.1 70.1,28.8 71.0,30.0 69.7,30.9 68.5,31.2" fill="#7a161c"/>
<polygon points="70.7,28.3 69.3,29.7 68.0,28.2 68.3,26.5 69.8,25.7 71.3,26.8" fill="#cc4a50"/>
</g>
<rect x="620.50" y="28.20" width="18.00" height="4.60" fill="#b0b0b0"/>
<rect x="658.00" y="51.20" width="17.20" height="5.20" fill="#b0b0b0"/>
<path d="M638.2,10 L659.7,10 Q657,49 616.1,54.2 L616.1,32.6 L638.2,32.6 Z" fill="#15887b"/>
<path d="M680.2,30.2 L680.2,51.4 L658.1,51.4 L658.1,74 L636.5,74 Q638,35 680.2,30.2 Z" fill="#15887b"/>
<text x="626.00" y="66.00" font-size="9.6" text-anchor="middle" textLength="17.7" lengthAdjust="spacingAndGlyphs" fill="#9a9a9a" stroke="#9a9a9a" stroke-width="0.3">SUS</text>
<rect x="621.00" y="68.50" width="10.00" height="0.60" fill="#c8c8c8"/>
<rect x="621.00" y="70.50" width="10.00" height="0.60" fill="#c8c8c8"/>
<text x="648.40" y="89.20" font-size="12.9" text-anchor="middle" font-weight="bold" textLength="64.6" lengthAdjust="spacingAndGlyphs" fill="#15887b" stroke="#15887b" stroke-width="0.6">FUMSSAR</text>
<rect x="616.00" y="94.00" width="65.00" height="1.20" fill="#ddd0d0"/>
<text x="341.40" y="61.50" font-size="16" text-anchor="middle" font-weight="bold" textLength="370.6" lengthAdjust="spacingAndGlyphs" fill="#111" stroke="#111" stroke-width="0.15">BOLETIM EPIDEMIOLÓGICO COVID– FUMSSAR</text>
<text x="341.00" y="85.00" font-size="16" text-anchor="middle" font-weight="bold" textLength="355.9" lengthAdjust="spacingAndGlyphs" fill="#111" stroke="#111" stroke-width="0.15">08/05/2021 – SEMANA EPIDEMIOLÓGICA 18</text>
<rect x="29.5" y="121.5" width="659" height="334" fill="none" stroke="#dcdcdc" stroke-width="1"/>
<text x="341.70" y="151.80" font-size="12" text-anchor="middle" font-weight="bold" textLength="448" lengthAdjust="spacingAndGlyphs" fill="#111" stroke="#111" stroke-width="0.15">Casos confirmados de Covid-19 por semana epidemiológica de notificação,</text>
<text x="342.30" y="169.90" font-size="12" text-anchor="middle" font-weight="bold" textLength="136" lengthAdjust="spacingAndGlyphs" fill="#111" stroke="#111" stroke-width="0.15">Santa Rosa, 2020-2021</text>
<text x="39.10" y="173.50" font-size="8.6" textLength="45.5" lengthAdjust="spacingAndGlyphs" fill="#222" stroke="#222" stroke-width="0.3">Nº de casos</text>
<text x="52.20" y="401.50" font-size="6.4" text-anchor="end" fill="#333" stroke="#333" stroke-width="0.3">0</text>
<line x1="58.50" y1="369.00" x2="674.10" y2="369.00" stroke="#e4e4e4" stroke-width="1"/>
<text x="52.20" y="371.30" font-size="6.4" text-anchor="end" fill="#333" stroke="#333" stroke-width="0.3">100</text>
<line x1="58.50" y1="338.80" x2="674.10" y2="338.80" stroke="#e4e4e4" stroke-width="1"/>
<text x="52.20" y="341.10" font-size="6.4" text-anchor="end" fill="#333" stroke="#333" stroke-width="0.3">200</text>
<line x1="58.50" y1="308.60" x2="674.10" y2="308.60" stroke="#e4e4e4" stroke-width="1"/>
<text x="52.20" y="310.90" font-size="6.4" text-anchor="end" fill="#333" stroke="#333" stroke-width="0.3">300</text>
<line x1="58.50" y1="278.40" x2="674.10" y2="278.40" stroke="#e4e4e4" stroke-width="1"/>
<text x="52.20" y="280.70" font-size="6.4" text-anchor="end" fill="#333" stroke="#333" stroke-width="0.3">400</text>
<line x1="58.50" y1="248.20" x2="674.10" y2="248.20" stroke="#e4e4e4" stroke-width="1"/>
<text x="52.20" y="250.50" font-size="6.4" text-anchor="end" fill="#333" stroke="#333" stroke-width="0.3">500</text>
<line x1="58.50" y1="218.00" x2="674.10" y2="218.00" stroke="#e4e4e4" stroke-width="1"/>
<text x="52.20" y="220.30" font-size="6.4" text-anchor="end" fill="#333" stroke="#333" stroke-width="0.3">600</text>
<line x1="58.50" y1="187.80" x2="674.10" y2="187.80" stroke="#e4e4e4" stroke-width="1"/>
<text x="52.20" y="190.10" font-size="6.4" text-anchor="end" fill="#333" stroke="#333" stroke-width="0.3">700</text>
<line x1="58.50" y1="399.20" x2="674.10" y2="399.20" stroke="#d0d0d0" stroke-width="1"/>
<rect x="60.00" y="397.39" width="3.80" height="1.81" fill="#4f81bd"/>
<text x="61.90" y="390.19" font-size="8.5" text-anchor="middle" fill="#222" stroke="#222" stroke-width="0.3">6</text>
<text x="66.45" y="391.20" font-size="8.5" text-anchor="middle" fill="#222" stroke="#222" stroke-width="0.3">0</text>
<text x="64.20" y="413.00" font-size="8.0" text-anchor="middle" fill="#333" stroke="#333" stroke-width="0.3">12</text>
<rect x="71.40" y="398.29" width="3.80" height="0.91" fill="#4f81bd"/>
<rect x="76.10" y="398.90" width="3.50" height="0.30" fill="#d8121b"/>
<text x="73.30" y="391.09" font-size="8.5" text-anchor="middle" fill="#222" stroke="#222" stroke-width="0.3">3</text>
<text x="77.85" y="390.90" font-size="8.5" text-anchor="middle" fill="#222" stroke="#222" stroke-width="0.3">1</text>
<text x="75.60" y="413.00" font-size="8.0" text-anchor="middle" fill="#333" stroke="#333" stroke-width="0.3">19</text>
<rect x="82.80" y="398.60" width="3.80" height="0.60" fill="#4f81bd"/>
<text x="84.70" y="391.40" font-size="8.5" text-anchor="middle" fill="#222" stroke="#222" stroke-width="0.3">2</text>
<text x="89.25" y="391.20" font-size="8.5" text-anchor="middle" fill="#222" stroke="#222" stroke-width="0.3">0</text>
<text x="87.00" y="413.00" font-size="8.0" text-anchor="middle" fill="#333" stroke="#333" stroke-width="0.3">20</text>
<rect x="94.20" y="396.78" width="3.80" height="2.42" fill="#4f81bd"/>
<text x="96.10" y="389.58" font-size="8.5" text-anchor="middle" fill="#222" stroke="#222" stroke-width="0.3">8</text>
<text x="100.65" y="391.20" font-size="8.5" text-anchor="middle" fill="#222" stroke="#222" stroke-width="0.3">0</text>
<text x="98.40" y="413.00" font-size="8.0" text-anchor="middle" fill="#333" stroke="#333" stroke-width="0.3">21</text>
<rect x="105.60" y="398.29" width="3.80" height="0.91" fill="#4f81bd"/>
<rect x="110.30" y="398.90" width="3.50" height="0.30" fill="#d8121b"/>
<text x="107.50" y="391.09" font-size="8.5" text-anchor="middle" fill="#222" stroke="#222" stroke-width="0.3">3</text>
<text x="112.05" y="390.90" font-size="8.5" text-anchor="middle" fill="#222" stroke="#222" stroke-width="0.3">1</text>
<text x="109.80" y="413.00" font-size="8.0" text-anchor="middle" fill="#333" stroke="#333" stroke-width="0.3">22</text>
<rect x="117.00" y="397.09" width="3.80" height="2.11" fill="#4f81bd"/>
<text x="118.90" y="389.89" font-size="8.5" text-anchor="middle" fill="#222" stroke="#222" stroke-width="0.3">7</text>
<text x="123.45" y="391.20" font-size="8.5" text-anchor="middle" fill="#222" stroke="#222" stroke-width="0.3">0</text>
<text x="121.20" y="413.00" font-size="8.0" text-anchor="middle" fill="#333" stroke="#333" stroke-width="0.3">23</text>
<rect x="128.40" y="395.58" width="3.80" height="3.62" fill="#4f81bd"/>
<text x="130.30" y="388.38" font-size="8.5" text-anchor="middle" fill="#222" stroke="#222" stroke-width="0.3">12</text>
<text x="134.85" y="391.20" font-size="8.5" text-anchor="middle" fill="#222" stroke="#222" stroke-width="0.3">0</text>
<text x="132.60" y="413.00" font-size="8.0" text-anchor="middle" fill="#333" stroke="#333" stroke-width="0.3">24</text>
<rect x="139.80" y="394.07" width="3.80" height="5.13" fill="#4f81bd"/>
<text x="141.70" y="386.87" font-size="8.5" text-anchor="middle" fill="#222" stroke="#222" stroke-width="0.3">17</text>
<text x="146.25" y="391.20" font-size="8.5" text-anchor="middle" fill="#222" stroke="#222" stroke-width="0.3">0</text>
<text x="144.00" y="413.00" font-size="8.0" text-anchor="middle" fill="#333" stroke="#333" stroke-width="0.3">25</text>
<rect x="151.20" y="390.14" width="3.80" height="9.06" fill="#4f81bd"/>
<text x="153.10" y="382.94" font-size="8.5" text-anchor="middle" fill="#222" stroke="#222" stroke-width="0.3">30</text>
<text x="157.65" y="391.20" font-size="8.5" text-anchor="middle" fill="#222" stroke="#222" stroke-width="0.3">0</text>
<text x="155.40" y="413.00" font-size="8.0" text-anchor="middle" fill="#333" stroke="#333" stroke-width="0.3">26</text>
<rect x="162.60" y="388.63" width="3.80" height="10.57" fill="#4f81bd"/>
<text x="164.50" y="381.43" font-size="8.5" text-anchor="middle" fill="#222" stroke="#222" stroke-width="0.3">35</text>
<text x="169.05" y="391.20" font-size="8.5" text-anchor="middle" fill="#222" stroke="#222" stroke-width="0.3">0</text>
<text x="166.80" y="413.00" font-size="8.0" text-anchor="middle" fill="#333" stroke="#333" stroke-width="0.3">27</text>
<rect x="174.00" y="385.91" width="3.80" height="13.29" fill="#4f81bd"/>
<rect x="178.70" y="398.60" width="3.50" height="0.60" fill="#d8121b"/>
<text x="175.90" y="378.71" font-size="8.5" text-anchor="middle" fill="#222" stroke="#222" stroke-width="0.3">44</text>
<text x="180.45" y="390.60" font-size="8.5" text-anchor="middle" fill="#222" stroke="#222" stroke-width="0.3">2</text>
<text x="178.20" y="413.00" font-size="8.0" text-anchor="middle" fill="#333" stroke="#333" stroke-width="0.3">28</text>
<rect x="185.40" y="378.36" width="3.80" height="20.84" fill="#4f81bd"/>
<rect x="190.10" y="398.90" width="3.50" height="0.30" fill="#d8121b"/>
<text x="187.30" y="371.16" font-size="8.5" text-anchor="middle" fill="#222" stroke="#222" stroke-width="0.3">69</text>
<text x="191.85" y="390.90" font-size="8.5" text-anchor="middle" fill="#222" stroke="#222" stroke-width="0.3">1</text>
<text x="189.60" y="413.00" font-size="8.0" text-anchor="middle" fill="#333" stroke="#333" stroke-width="0.3">29</text>
<rect x="196.80" y="362.05" width="3.80" height="37.15" fill="#4f81bd"/>
<rect x="201.50" y="398.29" width="3.50" height="0.91" fill="#d8121b"/>
<text x="198.70" y="354.85" font-size="8.5" text-anchor="middle" fill="#222" stroke="#222" stroke-width="0.3">123</text>
<text x="203.25" y="390.29" font-size="8.5" text-anchor="middle" fill="#222" stroke="#222" stroke-width="0.3">3</text>
<text x="201.00" y="413.00" font-size="8.0" text-anchor="middle" fill="#333" stroke="#333" stroke-width="0.3">30</text>
<rect x="208.20" y="357.83" width="3.80" height="41.37" fill="#4f81bd"/>
<text x="210.10" y="350.63" font-size="8.5" text-anchor="middle" fill="#222" stroke="#222" stroke-width="0.3">137</text>
<text x="214.65" y="391.20" font-size="8.5" text-anchor="middle" fill="#222" stroke="#222" stroke-width="0.3">0</text>
<text x="212.40" y="413.00" font-size="8.0" text-anchor="middle" fill="#333" stroke="#333" stroke-width="0.3">31</text>
<rect x="219.60" y="349.67" width="3.80" height="49.53" fill="#4f81bd"/>
<rect x="224.30" y="398.60" width="3.50" height="0.60" fill="#d8121b"/>
<text x="221.50" y="342.47" font-size="8.5" text-anchor="middle" fill="#222" stroke="#222" stroke-width="0.3">164</text>
<text x="226.05" y="390.60" font-size="8.5" text-anchor="middle" fill="#222" stroke="#222" stroke-width="0.3">2</text>
<text x="223.80" y="413.00" font-size="8.0" text-anchor="middle" fill="#333" stroke="#333" stroke-width="0.3">32</text>
<rect x="231.00" y="363.56" width="3.80" height="35.64" fill="#4f81bd"/>
<rect x="235.70" y="398.60" width="3.50" height="0.60" fill="#d8121b"/>
<text x="232.90" y="356.36" font-size="8.5" text-anchor="middle" fill="#222" stroke="#222" stroke-width="0.3">118</text>
<text x="237.45" y="390.60" font-size="8.5" text-anchor="middle" fill="#222" stroke="#222" stroke-width="0.3">2</text>
<text x="235.20" y="413.00" font-size="8.0" text-anchor="middle" fill="#333" stroke="#333" stroke-width="0.3">33</text>
<rect x="242.40" y="357.22" width="3.80" height="41.98" fill="#4f81bd"/>
<rect x="247.10" y="397.99" width="3.50" height="1.21" fill="#d8121b"/>
<text x="244.30" y="350.02" font-size="8.5" text-anchor="middle" fill="#222" stroke="#222" stroke-width="0.3">139</text>
<text x="248.85" y="389.99" font-size="8.5" text-anchor="middle" fill="#222" stroke="#222" stroke-width="0.3">4</text>
<text x="246.60" y="413.00" font-size="8.0" text-anchor="middle" fill="#333" stroke="#333" stroke-width="0.3">34</text>
<rect x="253.80" y="359.64" width="3.80" height="39.56" fill="#4f81bd"/>
<rect x="258.50" y="397.99" width="3.50" height="1.21" fill="#d8121b"/>
<text x="255.70" y="352.44" font-size="8.5" text-anchor="middle" fill="#222" stroke="#222" stroke-width="0.3">131</text>
<text x="260.25" y="389.99" font-size="8.5" text-anchor="middle" fill="#222" stroke="#222" stroke-width="0.3">4</text>
<text x="258.00" y="413.00" font-size="8.0" text-anchor="middle" fill="#333" stroke="#333" stroke-width="0.3">35</text>
<rect x="265.20" y="363.26" width="3.80" height="35.94" fill="#4f81bd"/>
<rect x="269.90" y="397.69" width="3.50" height="1.51" fill="#d8121b"/>
<text x="267.10" y="356.06" font-size="8.5" text-anchor="middle" fill="#222" stroke="#222" stroke-width="0.3">119</text>
<text x="271.65" y="389.69" font-size="8.5" text-anchor="middle" fill="#222" stroke="#222" stroke-width="0.3">5</text>
<text x="269.40" y="413.00" font-size="8.0" text-anchor="middle" fill="#333" stroke="#333" stroke-width="0.3">36</text>
<rect x="276.60" y="365.98" width="3.80" height="33.22" fill="#4f81bd"/>
<rect x="281.30" y="398.90" width="3.50" height="0.30" fill="#d8121b"/>
<text x="278.50" y="358.78" font-size="8.5" text-anchor="middle" fill="#222" stroke="#222" stroke-width="0.3">110</text>
<text x="283.05" y="390.90" font-size="8.5" text-anchor="middle" fill="#222" stroke="#222" stroke-width="0.3">1</text>
<text x="280.80" y="413.00" font-size="8.0" text-anchor="middle" fill="#333" stroke="#333" stroke-width="0.3">37</text>
<rect x="288.00" y="367.19" width="3.80" height="32.01" fill="#4f81bd"/>
<rect x="292.70" y="398.90" width="3.50" height="0.30" fill="#d8121b"/>
<text x="289.90" y="359.99" font-size="8.5" text-anchor="middle" fill="#222" stroke="#222" stroke-width="0.3">106</text>
<text x="294.45" y="390.90" font-size="8.5" text-anchor="middle" fill="#222" stroke="#222" stroke-width="0.3">1</text>
<text x="292.20" y="413.00" font-size="8.0" text-anchor="middle" fill="#333" stroke="#333" stroke-width="0.3">38</text>
<rect x="299.40" y="373.53" width="3.80" height="25.67" fill="#4f81bd"/>
<rect x="304.10" y="398.60" width="3.50" height="0.60" fill="#d8121b"/>
<text x="301.30" y="366.33" font-size="8.5" text-anchor="middle" fill="#222" stroke="#222" stroke-width="0.3">85</text>
<text x="305.85" y="390.60" font-size="8.5" text-anchor="middle" fill="#222" stroke="#222" stroke-width="0.3">2</text>
<text x="303.60" y="413.00" font-size="8.0" text-anchor="middle" fill="#333" stroke="#333" stroke-width="0.3">39</text>
<rect x="310.80" y="373.53" width="3.80" height="25.67" fill="#4f81bd"/>
<rect x="315.50" y="398.60" width="3.50" height="0.60" fill="#d8121b"/>
<text x="312.70" y="366.33" font-size="8.5" text-anchor="middle" fill="#222" stroke="#222" stroke-width="0.3">85</text>
<text x="317.25" y="390.60" font-size="8.5" text-anchor="middle" fill="#222" stroke="#222" stroke-width="0.3">2</text>
<text x="315.00" y="413.00" font-size="8.0" text-anchor="middle" fill="#333" stroke="#333" stroke-width="0.3">40</text>
<rect x="322.20" y="376.25" width="3.80" height="22.95" fill="#4f81bd"/>
<rect x="326.90" y="398.60" width="3.50" height="0.60" fill="#d8121b"/>
<text x="324.10" y="369.05" font-size="8.5" text-anchor="middle" fill="#222" stroke="#222" stroke-width="0.3">76</text>
<text x="328.65" y="390.60" font-size="8.5" text-anchor="middle" fill="#222" stroke="#222" stroke-width="0.3">2</text>
<text x="326.40" y="413.00" font-size="8.0" text-anchor="middle" fill="#333" stroke="#333" stroke-width="0.3">41</text>
<rect x="333.60" y="378.97" width="3.80" height="20.23" fill="#4f81bd"/>
<rect x="338.30" y="398.60" width="3.50" height="0.60" fill="#d8121b"/>
<text x="335.50" y="371.77" font-size="8.5" text-anchor="middle" fill="#222" stroke="#222" stroke-width="0.3">67</text>
<text x="340.05" y="390.60" font-size="8.5" text-anchor="middle" fill="#222" stroke="#222" stroke-width="0.3">2</text>
<text x="337.80" y="413.00" font-size="8.0" text-anchor="middle" fill="#333" stroke="#333" stroke-width="0.3">42</text>
<rect x="345.00" y="354.50" width="3.80" height="44.70" fill="#4f81bd"/>
<text x="346.90" y="347.30" font-size="8.5" text-anchor="middle" fill="#222" stroke="#222" stroke-width="0.3">148</text>
<text x="351.45" y="391.20" font-size="8.5" text-anchor="middle" fill="#222" stroke="#222" stroke-width="0.3">0</text>
<text x="349.20" y="413.00" font-size="8.0" text-anchor="middle" fill="#333" stroke="#333" stroke-width="0.3">43</text>
<rect x="356.40" y="346.05" width="3.80" height="53.15" fill="#4f81bd"/>
<text x="358.30" y="338.85" font-size="8.5" text-anchor="middle" fill="#222" stroke="#222" stroke-width="0.3">176</text>
<text x="362.85" y="391.20" font-size="8.5" text-anchor="middle" fill="#222" stroke="#222" stroke-width="0.3">0</text>
<text x="360.60" y="413.00" font-size="8.0" text-anchor="middle" fill="#333" stroke="#333" stroke-width="0.3">44</text>
<rect x="367.80" y="340.61" width="3.80" height="58.59" fill="#4f81bd"/>
<text x="369.70" y="333.41" font-size="8.5" text-anchor="middle" fill="#222" stroke="#222" stroke-width="0.3">194</text>
<text x="374.25" y="391.20" font-size="8.5" text-anchor="middle" fill="#222" stroke="#222" stroke-width="0.3">0</text>
<text x="372.00" y="413.00" font-size="8.0" text-anchor="middle" fill="#333" stroke="#333" stroke-width="0.3">45</text>
<rect x="379.20" y="325.81" width="3.80" height="73.39" fill="#4f81bd"/>
<text x="381.10" y="318.61" font-size="8.5" text-anchor="middle" fill="#222" stroke="#222" stroke-width="0.3">243</text>
<text x="385.65" y="391.20" font-size="8.5" text-anchor="middle" fill="#222" stroke="#222" stroke-width="0.3">0</text>
<text x="383.40" y="413.00" font-size="8.0" text-anchor="middle" fill="#333" stroke="#333" stroke-width="0.3">46</text>
<rect x="390.60" y="320.08" width="3.80" height="79.12" fill="#4f81bd"/>
<text x="392.50" y="312.88" font-size="8.5" text-anchor="middle" fill="#222" stroke="#222" stroke-width="0.3">262</text>
<text x="397.05" y="391.20" font-size="8.5" text-anchor="middle" fill="#222" stroke="#222" stroke-width="0.3">0</text>
<text x="394.80" y="413.00" font-size="8.0" text-anchor="middle" fill="#333" stroke="#333" stroke-width="0.3">47</text>
<rect x="402.00" y="309.81" width="3.80" height="89.39" fill="#4f81bd"/>
<rect x="406.70" y="398.60" width="3.50" height="0.60" fill="#d8121b"/>
<text x="403.90" y="302.61" font-size="8.5" text-anchor="middle" fill="#222" stroke="#222" stroke-width="0.3">296</text>
<text x="408.45" y="390.60" font-size="8.5" text-anchor="middle" fill="#222" stroke="#222" stroke-width="0.3">2</text>
<text x="406.20" y="413.00" font-size="8.0" text-anchor="middle" fill="#333" stroke="#333" stroke-width="0.3">48</text>
<rect x="413.40" y="296.52" width="3.80" height="102.68" fill="#4f81bd"/>
<rect x="418.10" y="398.29" width="3.50" height="0.91" fill="#d8121b"/>
<text x="415.30" y="289.32" font-size="8.5" text-anchor="middle" fill="#222" stroke="#222" stroke-width="0.3">340</text>
<text x="419.85" y="390.29" font-size="8.5" text-anchor="middle" fill="#222" stroke="#222" stroke-width="0.3">3</text>
<text x="417.60" y="413.00" font-size="8.0" text-anchor="middle" fill="#333" stroke="#333" stroke-width="0.3">49</text>
<rect x="424.80" y="307.39" width="3.80" height="91.81" fill="#4f81bd"/>
<rect x="429.50" y="398.29" width="3.50" height="0.91" fill="#d8121b"/>
<text x="426.70" y="300.19" font-size="8.5" text-anchor="middle" fill="#222" stroke="#222" stroke-width="0.3">304</text>
<text x="431.25" y="390.29" font-size="8.5" text-anchor="middle" fill="#222" stroke="#222" stroke-width="0.3">3</text>
<text x="429.00" y="413.00" font-size="8.0" text-anchor="middle" fill="#333" stroke="#333" stroke-width="0.3">50</text>
<rect x="436.20" y="316.75" width="3.80" height="82.45" fill="#4f81bd"/>
<rect x="440.90" y="397.99" width="3.50" height="1.21" fill="#d8121b"/>
<text x="438.10" y="309.55" font-size="8.5" text-anchor="middle" fill="#222" stroke="#222" stroke-width="0.3">273</text>
<text x="442.65" y="389.99" font-size="8.5" text-anchor="middle" fill="#222" stroke="#222" stroke-width="0.3">4</text>
<text x="440.40" y="413.00" font-size="8.0" text-anchor="middle" fill="#333" stroke="#333" stroke-width="0.3">51</text>
<rect x="447.60" y="309.20" width="3.80" height="90.00" fill="#4f81bd"/>
<rect x="452.30" y="397.69" width="3.50" height="1.51" fill="#d8121b"/>
<text x="449.50" y="302.00" font-size="8.5" text-anchor="middle" fill="#222" stroke="#222" stroke-width="0.3">298</text>
<text x="454.05" y="389.69" font-size="8.5" text-anchor="middle" fill="#222" stroke="#222" stroke-width="0.3">5</text>
<text x="451.80" y="413.00" font-size="8.0" text-anchor="middle" fill="#333" stroke="#333" stroke-width="0.3">52</text>
<rect x="459.00" y="304.07" width="3.80" height="95.13" fill="#4f81bd"/>
<rect x="463.70" y="397.69" width="3.50" height="1.51" fill="#d8121b"/>
<text x="460.90" y="296.87" font-size="8.5" text-anchor="middle" fill="#222" stroke="#222" stroke-width="0.3">315</text>
<text x="465.45" y="389.69" font-size="8.5" text-anchor="middle" fill="#222" stroke="#222" stroke-width="0.3">5</text>
<text x="463.20" y="413.00" font-size="8.0" text-anchor="middle" fill="#333" stroke="#333" stroke-width="0.3">53</text>
<rect x="470.40" y="266.02" width="3.80" height="133.18" fill="#4f81bd"/>
<rect x="475.10" y="398.90" width="3.50" height="0.30" fill="#d8121b"/>
<text x="472.30" y="258.82" font-size="8.5" text-anchor="middle" fill="#222" stroke="#222" stroke-width="0.3">441</text>
<text x="476.85" y="390.90" font-size="8.5" text-anchor="middle" fill="#222" stroke="#222" stroke-width="0.3">1</text>
<text x="474.60" y="413.00" font-size="8.0" text-anchor="middle" fill="#333" stroke="#333" stroke-width="0.3">1</text>
<rect x="481.80" y="295.92" width="3.80" height="103.28" fill="#4f81bd"/>
<rect x="486.50" y="398.90" width="3.50" height="0.30" fill="#d8121b"/>
<text x="483.70" y="288.72" font-size="8.5" text-anchor="middle" fill="#222" stroke="#222" stroke-width="0.3">342</text>
<text x="488.25" y="390.90" font-size="8.5" text-anchor="middle" fill="#222" stroke="#222" stroke-width="0.3">1</text>
<text x="486.00" y="413.00" font-size="8.0" text-anchor="middle" fill="#333" stroke="#333" stroke-width="0.3">2</text>
<rect x="493.20" y="295.31" width="3.80" height="103.89" fill="#4f81bd"/>
<rect x="497.90" y="398.29" width="3.50" height="0.91" fill="#d8121b"/>
<text x="495.10" y="288.11" font-size="8.5" text-anchor="middle" fill="#222" stroke="#222" stroke-width="0.3">344</text>
<text x="499.65" y="390.29" font-size="8.5" text-anchor="middle" fill="#222" stroke="#222" stroke-width="0.3">3</text>
<text x="497.40" y="413.00" font-size="8.0" text-anchor="middle" fill="#333" stroke="#333" stroke-width="0.3">3</text>
<rect x="504.60" y="302.26" width="3.80" height="96.94" fill="#4f81bd"/>
<rect x="509.30" y="398.29" width="3.50" height="0.91" fill="#d8121b"/>
<text x="506.50" y="295.06" font-size="8.5" text-anchor="middle" fill="#222" stroke="#222" stroke-width="0.3">321</text>
<text x="511.05" y="390.29" font-size="8.5" text-anchor="middle" fill="#222" stroke="#222" stroke-width="0.3">3</text>
<text x="508.80" y="413.00" font-size="8.0" text-anchor="middle" fill="#333" stroke="#333" stroke-width="0.3">4</text>
<rect x="516.00" y="291.08" width="3.80" height="108.12" fill="#4f81bd"/>
<rect x="520.70" y="398.90" width="3.50" height="0.30" fill="#d8121b"/>
<text x="517.90" y="283.88" font-size="8.5" text-anchor="middle" fill="#222" stroke="#222" stroke-width="0.3">358</text>
<text x="522.45" y="390.90" font-size="8.5" text-anchor="middle" fill="#222" stroke="#222" stroke-width="0.3">1</text>
<text x="520.20" y="413.00" font-size="8.0" text-anchor="middle" fill="#333" stroke="#333" stroke-width="0.3">5</text>
<rect x="527.40" y="280.82" width="3.80" height="118.38" fill="#4f81bd"/>
<rect x="532.10" y="397.99" width="3.50" height="1.21" fill="#d8121b"/>
<text x="529.30" y="273.62" font-size="8.5" text-anchor="middle" fill="#222" stroke="#222" stroke-width="0.3">392</text>
<text x="533.85" y="389.99" font-size="8.5" text-anchor="middle" fill="#222" stroke="#222" stroke-width="0.3">4</text>
<text x="531.60" y="413.00" font-size="8.0" text-anchor="middle" fill="#333" stroke="#333" stroke-width="0.3">6</text>
<rect x="538.80" y="275.38" width="3.80" height="123.82" fill="#4f81bd"/>
<rect x="543.50" y="398.90" width="3.50" height="0.30" fill="#d8121b"/>
<text x="540.70" y="268.18" font-size="8.5" text-anchor="middle" fill="#222" stroke="#222" stroke-width="0.3">410</text>
<text x="545.25" y="390.90" font-size="8.5" text-anchor="middle" fill="#222" stroke="#222" stroke-width="0.3">1</text>
<text x="543.00" y="413.00" font-size="8.0" text-anchor="middle" fill="#333" stroke="#333" stroke-width="0.3">7</text>
<rect x="550.20" y="240.95" width="3.80" height="158.25" fill="#4f81bd"/>
<rect x="554.90" y="398.60" width="3.50" height="0.60" fill="#d8121b"/>
<text x="552.10" y="233.75" font-size="8.5" text-anchor="middle" fill="#222" stroke="#222" stroke-width="0.3">524</text>
<text x="556.65" y="390.60" font-size="8.5" text-anchor="middle" fill="#222" stroke="#222" stroke-width="0.3">2</text>
<text x="554.40" y="413.00" font-size="8.0" text-anchor="middle" fill="#333" stroke="#333" stroke-width="0.3">8</text>
<rect x="561.60" y="195.95" width="3.80" height="203.25" fill="#4f81bd"/>
<rect x="566.30" y="397.69" width="3.50" height="1.51" fill="#d8121b"/>
<text x="566.00" y="198.80" font-size="8.5" fill="#222" stroke="#222" stroke-width="0.3">673</text>
<text x="568.05" y="389.69" font-size="8.5" text-anchor="middle" fill="#222" stroke="#222" stroke-width="0.3">5</text>
<text x="565.80" y="413.00" font-size="8.0" text-anchor="middle" fill="#333" stroke="#333" stroke-width="0.3">9</text>
<rect x="573.00" y="239.44" width="3.80" height="159.76" fill="#4f81bd"/>
<rect x="577.70" y="396.78" width="3.50" height="2.42" fill="#d8121b"/>
<text x="574.90" y="232.24" font-size="8.5" text-anchor="middle" fill="#222" stroke="#222" stroke-width="0.3">529</text>
<text x="579.45" y="388.78" font-size="8.5" text-anchor="middle" fill="#222" stroke="#222" stroke-width="0.3">8</text>
<text x="577.20" y="413.00" font-size="8.0" text-anchor="middle" fill="#333" stroke="#333" stroke-width="0.3">10</text>
<rect x="584.40" y="272.36" width="3.80" height="126.84" fill="#4f81bd"/>
<rect x="589.10" y="396.78" width="3.50" height="2.42" fill="#d8121b"/>
<text x="586.30" y="265.16" font-size="8.5" text-anchor="middle" fill="#222" stroke="#222" stroke-width="0.3">420</text>
<text x="590.85" y="388.78" font-size="8.5" text-anchor="middle" fill="#222" stroke="#222" stroke-width="0.3">8</text>
<text x="588.60" y="413.00" font-size="8.0" text-anchor="middle" fill="#333" stroke="#333" stroke-width="0.3">11</text>
<rect x="595.80" y="299.24" width="3.80" height="99.96" fill="#4f81bd"/>
<rect x="600.50" y="395.88" width="3.50" height="3.32" fill="#d8121b"/>
<text x="597.70" y="292.04" font-size="8.5" text-anchor="middle" fill="#222" stroke="#222" stroke-width="0.3">331</text>
<text x="602.25" y="387.88" font-size="8.5" text-anchor="middle" fill="#222" stroke="#222" stroke-width="0.3">11</text>
<text x="600.00" y="413.00" font-size="8.0" text-anchor="middle" fill="#333" stroke="#333" stroke-width="0.3">12</text>
<rect x="607.20" y="335.48" width="3.80" height="63.72" fill="#4f81bd"/>
<rect x="611.90" y="397.39" width="3.50" height="1.81" fill="#d8121b"/>
<text x="609.10" y="328.28" font-size="8.5" text-anchor="middle" fill="#222" stroke="#222" stroke-width="0.3">211</text>
<text x="613.65" y="389.39" font-size="8.5" text-anchor="middle" fill="#222" stroke="#222" stroke-width="0.3">6</text>
<text x="611.40" y="413.00" font-size="8.0" text-anchor="middle" fill="#333" stroke="#333" stroke-width="0.3">13</text>
<rect x="618.60" y="329.44" width="3.80" height="69.76" fill="#4f81bd"/>
<rect x="623.30" y="398.29" width="3.50" height="0.91" fill="#d8121b"/>
<text x="620.50" y="322.24" font-size="8.5" text-anchor="middle" fill="#222" stroke="#222" stroke-width="0.3">231</text>
<text x="625.05" y="390.29" font-size="8.5" text-anchor="middle" fill="#222" stroke="#222" stroke-width="0.3">3</text>
<text x="622.80" y="413.00" font-size="8.0" text-anchor="middle" fill="#333" stroke="#333" stroke-width="0.3">14</text>
<rect x="630.00" y="346.65" width="3.80" height="52.55" fill="#4f81bd"/>
<rect x="634.70" y="397.99" width="3.50" height="1.21" fill="#d8121b"/>
<text x="631.90" y="339.45" font-size="8.5" text-anchor="middle" fill="#222" stroke="#222" stroke-width="0.3">174</text>
<text x="636.45" y="389.99" font-size="8.5" text-anchor="middle" fill="#222" stroke="#222" stroke-width="0.3">4</text>
<text x="634.20" y="413.00" font-size="8.0" text-anchor="middle" fill="#333" stroke="#333" stroke-width="0.3">15</text>
<rect x="641.40" y="355.71" width="3.80" height="43.49" fill="#4f81bd"/>
<rect x="646.10" y="397.09" width="3.50" height="2.11" fill="#d8121b"/>
<text x="643.30" y="348.51" font-size="8.5" text-anchor="middle" fill="#222" stroke="#222" stroke-width="0.3">144</text>
<text x="647.85" y="389.09" font-size="8.5" text-anchor="middle" fill="#222" stroke="#222" stroke-width="0.3">7</text>
<text x="645.60" y="413.00" font-size="8.0" text-anchor="middle" fill="#333" stroke="#333" stroke-width="0.3">16</text>
<rect x="652.80" y="356.62" width="3.80" height="42.58" fill="#4f81bd"/>
<rect x="657.50" y="397.09" width="3.50" height="2.11" fill="#d8121b"/>
<text x="654.70" y="349.42" font-size="8.5" text-anchor="middle" fill="#222" stroke="#222" stroke-width="0.3">141</text>
<text x="659.25" y="389.09" font-size="8.5" text-anchor="middle" fill="#222" stroke="#222" stroke-width="0.3">7</text>
<text x="657.00" y="413.00" font-size="8.0" text-anchor="middle" fill="#333" stroke="#333" stroke-width="0.3">17</text>
<rect x="664.20" y="341.52" width="3.80" height="57.68" fill="#4f81bd"/>
<rect x="668.90" y="398.60" width="3.50" height="0.60" fill="#d8121b"/>
<text x="666.10" y="334.32" font-size="8.5" text-anchor="middle" fill="#222" stroke="#222" stroke-width="0.3">191</text>
<text x="670.65" y="390.60" font-size="8.5" text-anchor="middle" fill="#222" stroke="#222" stroke-width="0.3">2</text>
<text x="668.40" y="413.00" font-size="8.0" text-anchor="middle" fill="#333" stroke="#333" stroke-width="0.3">18</text>
<text x="64.20" y="424.00" font-size="8.0" text-anchor="middle" fill="#333" stroke="#333" stroke-width="0.3">a</text>
<text x="64.20" y="433.20" font-size="8.0" text-anchor="middle" fill="#333" stroke="#333" stroke-width="0.3">18</text>
<text x="306.70" y="428.00" font-size="10" text-anchor="middle" font-weight="bold" textLength="118" lengthAdjust="spacingAndGlyphs" fill="#111" stroke="#111" stroke-width="0.15">Semana epidemiológica</text>
<rect x="72.6" y="207.6" width="177.2" height="71.8" fill="#fff" stroke="#93a7bf" stroke-width="1.1"/>
<text x="81.60" y="222.10" font-size="9.2" font-style="italic" textLength="154.7" lengthAdjust="spacingAndGlyphs" fill="#2a2a2a" stroke="#2a2a2a" stroke-width="0.12">* Os dados são parciais e sujeitos a</text>
<text x="81.60" y="235.50" font-size="9.2" font-style="italic" textLength="150.4" lengthAdjust="spacingAndGlyphs" fill="#2a2a2a" stroke="#2a2a2a" stroke-width="0.12">alterações. Há inúmeras amostras</text>
<text x="81.60" y="248.50" font-size="9.2" font-style="italic" textLength="100.0" lengthAdjust="spacingAndGlyphs" fill="#2a2a2a" stroke="#2a2a2a" stroke-width="0.12">aguardando resultado.</text>
<text x="81.6" y="265.9" font-size="9.2" font-style="italic" fill="#2a2a2a" stroke="#2a2a2a" stroke-width="0.12" textLength="128.6" lengthAdjust="spacingAndGlyphs"><tspan font-weight="bold" stroke-width="0.2">Semana 18</tspan>: 02 a 08/05/2021</text>
<rect x="451.5" y="425.5" width="202" height="22" fill="#fff" stroke="#9aabc6" stroke-width="1"/>
<rect x="477.80" y="434.00" width="5.00" height="5.00" fill="#4f81bd"/>
<text x="485.60" y="439.80" font-size="9.6" textLength="82.6" lengthAdjust="spacingAndGlyphs" fill="#222" stroke="#222" stroke-width="0.3">Nº DE CASOS NOVOS</text>
<rect x="595.00" y="434.00" width="5.00" height="5.00" fill="#d8121b"/>
<text x="600.90" y="439.80" font-size="9.6" textLength="30.1" lengthAdjust="spacingAndGlyphs" fill="#222" stroke="#222" stroke-width="0.3">OBITOS</text>
<circle cx="201.4" cy="572.9" r="80" fill="#c0504d"/>
<path d="M201.40,572.90 L218.65,494.78 A80,80 0 0 1 201.40,652.90 Z" fill="#4f81bd"/>
<text x="189.50" y="476.90" font-size="16.6" text-anchor="middle" font-weight="bold" textLength="166.6" lengthAdjust="spacingAndGlyphs" fill="#111" stroke="#111" stroke-width="0.15">Distribuição por sexo</text>
<text x="128.60" y="568.30" font-size="10.6" textLength="53.5" lengthAdjust="spacingAndGlyphs" fill="#1a1a1a" stroke="#1a1a1a" stroke-width="0.3">5.732; 53%</text>
<text x="219.40" y="586.20" font-size="10.6" textLength="54.2" lengthAdjust="spacingAndGlyphs" fill="#1a1a1a" stroke="#1a1a1a" stroke-width="0.3">4.990; 47%</text>
<rect x="104.40" y="645.20" width="6.50" height="6.40" fill="#c0504d"/>
<text x="114.90" y="651.60" font-size="10.5" textLength="50.3" lengthAdjust="spacingAndGlyphs" fill="#1a1a1a" stroke="#1a1a1a" stroke-width="0.3">FEMININO</text>
<rect x="226.80" y="645.20" width="6.50" height="6.40" fill="#4f81bd"/>
<text x="237.40" y="651.60" font-size="10.5" textLength="59.3" lengthAdjust="spacingAndGlyphs" fill="#1a1a1a" stroke="#1a1a1a" stroke-width="0.3">MASCULINO</text>
<circle cx="474.8" cy="575.2" r="79.3" fill="#c0504d"/>
<path d="M474.80,575.20 L397.15,591.28 A79.3,79.3 0 0 1 395.50,574.78 Z" fill="#9bbb59"/>
<path d="M474.80,575.20 L395.50,574.78 A79.3,79.3 0 0 1 448.98,500.22 Z" fill="#4f81bd"/>
<text x="521.50" y="477.70" font-size="16.6" text-anchor="middle" font-weight="bold" textLength="181" lengthAdjust="spacingAndGlyphs" fill="#111" stroke="#111" stroke-width="0.15">Classificação dos casos</text>
<text x="416.10" y="546.50" font-size="10.6" textLength="32.3" lengthAdjust="spacingAndGlyphs" fill="#1a1a1a" stroke="#1a1a1a" stroke-width="0.3">2.071 ;</text>
<text x="431.50" y="561.00" font-size="10.6" text-anchor="middle" fill="#1a1a1a" stroke="#1a1a1a" stroke-width="0.3">19%</text>
<text x="489.50" y="596.20" font-size="10.6" textLength="54.2" lengthAdjust="spacingAndGlyphs" fill="#1a1a1a" stroke="#1a1a1a" stroke-width="0.3">8.259; 77%</text>
<text x="371.10" y="582.40" font-size="10.6" textLength="21.1" lengthAdjust="spacingAndGlyphs" fill="#1a1a1a" stroke="#1a1a1a" stroke-width="0.3">392;</text>
<text x="373.20" y="597.30" font-size="10.6" textLength="13.7" lengthAdjust="spacingAndGlyphs" fill="#1a1a1a" stroke="#1a1a1a" stroke-width="0.3">4%</text>
<rect x="577.40" y="531.40" width="6.80" height="6.80" fill="#4f81bd"/>
<text x="587.70" y="538.60" font-size="10.5" textLength="88.9" lengthAdjust="spacingAndGlyphs" fill="#1a1a1a" stroke="#1a1a1a" stroke-width="0.3">ASSINTOMATICOS</text>
<rect x="577.40" y="568.80" width="6.80" height="6.50" fill="#c0504d"/>
<text x="587.70" y="575.30" font-size="10.5" textLength="53.5" lengthAdjust="spacingAndGlyphs" fill="#1a1a1a" stroke="#1a1a1a" stroke-width="0.3">SINDROME</text>
<text x="587.70" y="590.00" font-size="10.5" textLength="35.2" lengthAdjust="spacingAndGlyphs" fill="#1a1a1a" stroke="#1a1a1a" stroke-width="0.3">GRIPAL</text>
<rect x="577.40" y="604.90" width="6.80" height="6.30" fill="#9bbb59"/>
<text x="587.70" y="611.70" font-size="10.5" textLength="26.1" lengthAdjust="spacingAndGlyphs" fill="#1a1a1a" stroke="#1a1a1a" stroke-width="0.3">SRAG</text>
<text x="358.50" y="690.20" font-size="16.6" text-anchor="middle" font-weight="bold" textLength="348" lengthAdjust="spacingAndGlyphs" fill="#111" xml:space="preserve" stroke="#111" stroke-width="0.15">Casos confirmados e óbitos  por faixa etária</text>
<line x1="231.40" y1="704.90" x2="231.40" y2="906.20" stroke="#e0e0e0" stroke-width="1"/>
<line x1="332.00" y1="704.90" x2="332.00" y2="906.20" stroke="#e0e0e0" stroke-width="1"/>
<line x1="432.60" y1="704.90" x2="432.60" y2="906.20" stroke="#e0e0e0" stroke-width="1"/>
<line x1="533.20" y1="704.90" x2="533.20" y2="906.20" stroke="#e0e0e0" stroke-width="1"/>
<rect x="130.80" y="704.90" width="503.00" height="201.30" fill="none" stroke="#c4c4c4" stroke-width="1.6"/>
<text x="130.80" y="925.90" font-size="10.5" text-anchor="middle" fill="#1a1a1a" stroke="#1a1a1a" stroke-width="0.3">0</text>
<text x="231.40" y="925.90" font-size="10.5" text-anchor="middle" fill="#1a1a1a" stroke="#1a1a1a" stroke-width="0.3">500</text>
<text x="332.00" y="925.90" font-size="10.5" text-anchor="middle" fill="#1a1a1a" stroke="#1a1a1a" stroke-width="0.3">1000</text>
<text x="432.60" y="925.90" font-size="10.5" text-anchor="middle" fill="#1a1a1a" stroke="#1a1a1a" stroke-width="0.3">1500</text>
<text x="533.20" y="925.90" font-size="10.5" text-anchor="middle" fill="#1a1a1a" stroke="#1a1a1a" stroke-width="0.3">2000</text>
<text x="633.80" y="925.90" font-size="10.5" text-anchor="middle" fill="#1a1a1a" stroke="#1a1a1a" stroke-width="0.3">2500</text>
<text x="119.00" y="720.60" font-size="10.5" text-anchor="end" fill="#1a1a1a" stroke="#1a1a1a" stroke-width="0.3">80 anos e mais</text>
<rect x="130.80" y="716.80" width="33.60" height="6.30" fill="#4f81bd"/>
<text x="172.70" y="724.25" font-size="10.5" fill="#1a1a1a" stroke="#1a1a1a" stroke-width="0.3">167</text>
<rect x="130.80" y="710.50" width="6.04" height="6.30" fill="#f2101a"/>
<text x="144.84" y="717.65" font-size="10.5" fill="#1a1a1a" stroke="#1a1a1a" stroke-width="0.3">30</text>
<text x="119.00" y="742.90" font-size="10.5" text-anchor="end" fill="#1a1a1a" stroke="#1a1a1a" stroke-width="0.3">70 a 79 anos</text>
<rect x="130.80" y="739.10" width="81.69" height="6.30" fill="#4f81bd"/>
<text x="220.79" y="746.55" font-size="10.5" fill="#1a1a1a" stroke="#1a1a1a" stroke-width="0.3">406</text>
<rect x="130.80" y="732.80" width="7.44" height="6.30" fill="#f2101a"/>
<text x="146.24" y="739.95" font-size="10.5" fill="#1a1a1a" stroke="#1a1a1a" stroke-width="0.3">37</text>
<text x="119.00" y="765.20" font-size="10.5" text-anchor="end" fill="#1a1a1a" stroke="#1a1a1a" stroke-width="0.3">60 a 69 anos</text>
<rect x="130.80" y="761.40" width="165.99" height="6.30" fill="#4f81bd"/>
<text x="305.09" y="768.85" font-size="10.5" fill="#1a1a1a" stroke="#1a1a1a" stroke-width="0.3">825</text>
<rect x="130.80" y="755.10" width="6.84" height="6.30" fill="#f2101a"/>
<text x="145.64" y="762.25" font-size="10.5" fill="#1a1a1a" stroke="#1a1a1a" stroke-width="0.3">34</text>
<text x="119.00" y="787.50" font-size="10.5" text-anchor="end" fill="#1a1a1a" stroke="#1a1a1a" stroke-width="0.3">50 a 59 anos</text>
<rect x="130.80" y="783.70" width="283.69" height="6.30" fill="#4f81bd"/>
<text x="422.79" y="791.15" font-size="10.5" fill="#1a1a1a" stroke="#1a1a1a" stroke-width="0.3">1410</text>
<rect x="130.80" y="777.40" width="2.62" height="6.30" fill="#f2101a"/>
<text x="141.42" y="784.55" font-size="10.5" fill="#1a1a1a" stroke="#1a1a1a" stroke-width="0.3">13</text>
<text x="119.00" y="809.80" font-size="10.5" text-anchor="end" fill="#1a1a1a" stroke="#1a1a1a" stroke-width="0.3">40 a 49 anos</text>
<rect x="130.80" y="806.00" width="378.86" height="6.30" fill="#4f81bd"/>
<text x="517.96" y="813.45" font-size="10.5" fill="#1a1a1a" stroke="#1a1a1a" stroke-width="0.3">1883</text>
<rect x="130.80" y="799.70" width="2.62" height="6.30" fill="#f2101a"/>
<text x="141.42" y="806.85" font-size="10.5" fill="#1a1a1a" stroke="#1a1a1a" stroke-width="0.3">13</text>
<text x="119.00" y="832.10" font-size="10.5" text-anchor="end" fill="#1a1a1a" stroke="#1a1a1a" stroke-width="0.3">30 a 39 anos</text>
<rect x="130.80" y="828.30" width="476.24" height="6.30" fill="#4f81bd"/>
<text x="615.34" y="835.75" font-size="10.5" fill="#1a1a1a" stroke="#1a1a1a" stroke-width="0.3">2367</text>
<rect x="130.80" y="822.00" width="1.41" height="6.30" fill="#f2101a"/>
<text x="140.21" y="829.15" font-size="10.5" fill="#1a1a1a" stroke="#1a1a1a" stroke-width="0.3">7</text>
<text x="119.00" y="854.40" font-size="10.5" text-anchor="end" fill="#1a1a1a" stroke="#1a1a1a" stroke-width="0.3">20 a 29 anos</text>
<rect x="130.80" y="850.60" width="401.60" height="6.30" fill="#4f81bd"/>
<text x="540.70" y="858.05" font-size="10.5" fill="#1a1a1a" stroke="#1a1a1a" stroke-width="0.3">1996</text>
<text x="119.00" y="876.70" font-size="10.5" text-anchor="end" fill="#1a1a1a" stroke="#1a1a1a" stroke-width="0.3">10 a 19 anos</text>
<rect x="130.80" y="872.90" width="154.32" height="6.30" fill="#4f81bd"/>
<text x="293.42" y="880.35" font-size="10.5" fill="#1a1a1a" stroke="#1a1a1a" stroke-width="0.3">767</text>
<text x="119.00" y="899.00" font-size="10.5" text-anchor="end" fill="#1a1a1a" stroke="#1a1a1a" stroke-width="0.3">&lt; 10 anos</text>
<rect x="130.80" y="895.20" width="181.28" height="6.30" fill="#4f81bd"/>
<text x="320.38" y="902.65" font-size="10.5" fill="#1a1a1a" stroke="#1a1a1a" stroke-width="0.3">901</text>
<line x1="29.50" y1="455.50" x2="29.50" y2="937.80" stroke="#8e98aa" stroke-width="1.3"/>
<line x1="689.00" y1="455.50" x2="689.00" y2="937.80" stroke="#a5b2c4" stroke-width="1.8"/>
<line x1="362.90" y1="455.50" x2="362.90" y2="661.50" stroke="#8a929e" stroke-width="1.8"/>
<line x1="29.00" y1="661.50" x2="689.80" y2="661.50" stroke="#8d9aa8" stroke-width="1.3"/>
<line x1="29.00" y1="937.30" x2="689.80" y2="937.30" stroke="#8f9aac" stroke-width="1.4"/>
<line x1="29.00" y1="454.70" x2="363.00" y2="454.70" stroke="#d5dbe6" stroke-width="1.4"/>
<line x1="29.00" y1="456.40" x2="363.00" y2="456.40" stroke="#8a93a6" stroke-width="1.3"/>
<line x1="363.00" y1="455.40" x2="689.80" y2="455.40" stroke="#b3b7c0" stroke-width="2.2"/>
</svg></body></html>
